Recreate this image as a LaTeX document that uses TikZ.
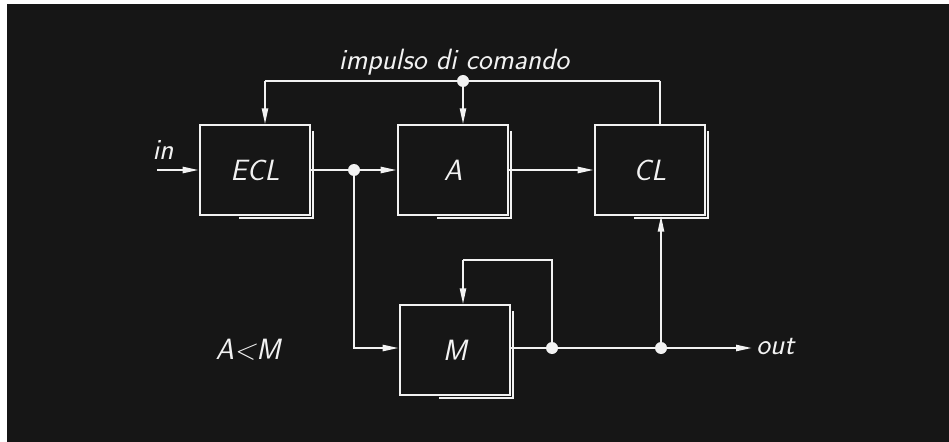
\documentclass[tikz,border=0pt]{standalone}
\usepackage{fontspec}
\usetikzlibrary{arrows.meta}
\definecolor{bg}{HTML}{161616}
\definecolor{ink}{HTML}{F2F2F2}
\begin{document}
\begin{tikzpicture}[x=0.75pt,y=-0.75pt,
  wire/.style={draw=ink,line width=1.5pt},
  arr/.style={wire,-{Triangle[length=12pt,width=4.6pt]}},
  blk/.style={draw=ink,line width=1.5pt,minimum width=83pt,minimum height=67pt,inner sep=0pt,
    font=\sffamily\itshape\fontsize{22}{26}\selectfont,text=ink},
  lbl/.style={font=\sffamily\itshape\fontsize{22}{26}\selectfont,text=ink,inner sep=0pt},
  dot/.style={circle,fill=ink,inner sep=0pt,minimum size=9pt}]
\useasboundingbox (0,0) rectangle (949,442);
\fill[white] (0,0) rectangle (949,442);
\fill[bg] (7,4) rectangle (949,442);
% blocks
\node[blk] (ecl) at (255,170) {ECL};
\node[blk] (a) at (453,170) {A};
\node[blk] (cl) at (650,170) {CL};
\node[blk] (m) at (455,350) {M};
% shadows
\foreach \b in {ecl,a,cl,m}{
  \draw[ink,line width=1.5pt] ([shift={(1.4pt,-5pt)}]\b.north east) |- ([shift={(30pt,-1.4pt)}]\b.south west);
}
% junctions
\coordinate (inL) at (157,170);
\node[dot] (j1) at (354,170) {};
\node[dot] (j2) at (552,348) {};
\node[dot] (j3) at (661,348) {};
\node[dot] (j4) at (463,81) {};
\coordinate (tl) at (265,81);
\coordinate (tr) at (660,81);
\coordinate (fb) at (552,260);
\coordinate (outR) at (752,348);
\coordinate (mfb) at (463,260);
% labels
\node[lbl] (inlbl) at (163,150) {in};
\node[lbl,anchor=west] (outlbl) at (756,347) {out};
\node[lbl] (imp) at (454,62) {impulso di comando};
\node[lbl] (am) at (248,350) {A<M};
% connectors
\draw[arr] (inL) -- (ecl.west |- inL);
\draw[wire] (ecl.east |- j1) -- (j1);
\draw[arr] (j1) -- (a.west |- j1);
\draw[arr] (a.east) -- (cl.west);
\draw[arr] (j1) |- (m.west |- j2) ;
\draw[wire] (m.east |- j2) -- (j2) -- (j3);
\draw[arr] (j3) -- (outR);
\draw[arr] (j3) -- (cl.south -| j3);
\draw[wire] (j2) -- (fb) -- (mfb);
\draw[arr] (mfb) -- (m.north -| mfb);
\draw[wire] (tl) -- (tr);
\draw[arr] (tl) -- (ecl.north -| tl);
\draw[arr] (j4) -- (a.north -| j4);
\draw[wire] (tr) -- (cl.north -| tr);
\end{tikzpicture}
\end{document}
